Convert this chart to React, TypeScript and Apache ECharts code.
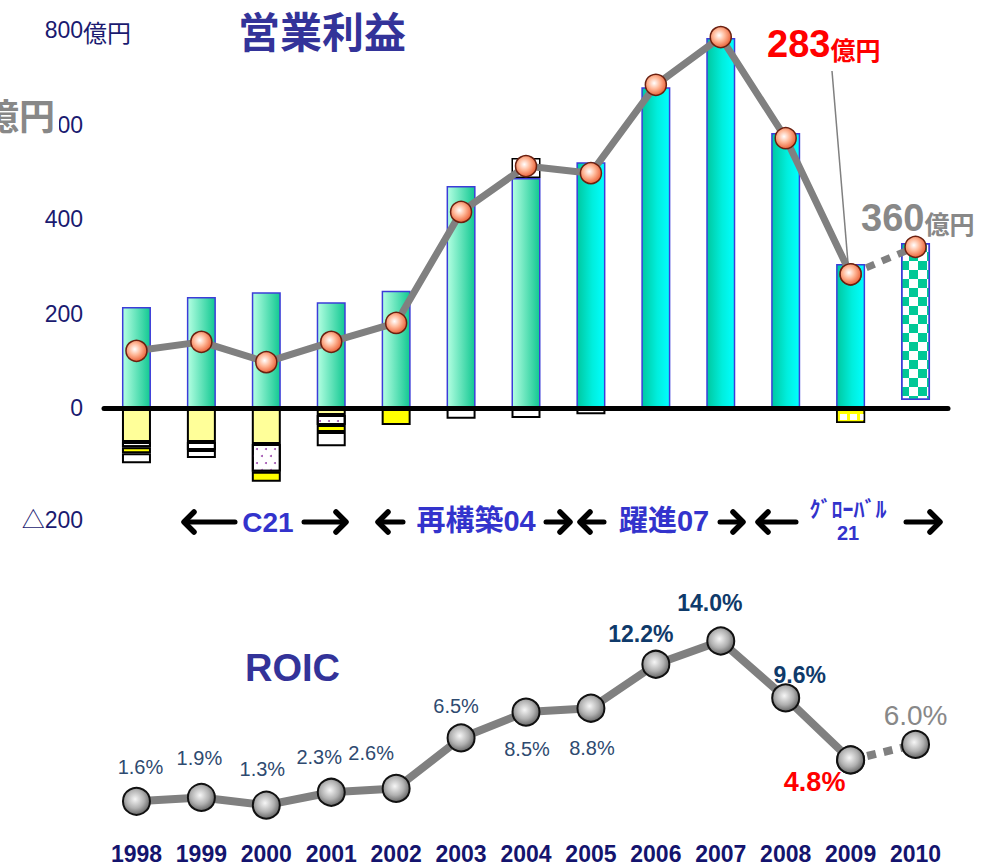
import React, { useEffect, useRef } from 'react';
import * as echarts from 'echarts';

// ---------- data ----------
const years = ['1998', '1999', '2000', '2001', '2002', '2003', '2004', '2005', '2006', '2007', '2008', '2009', '2010'];
// operating profit (億円) — line
const opProfit = [121, 140, 97, 140, 180, 415, 512, 497, 684, 785, 571, 283, 341];
// stacked bar components (億円)
const barBase = [0, 0, 0, 0, 0, 0, 0, 0, 0, 0, 0, 0, 17];
const barMain = [214, 235, 245, 224, 248, 470, 487, 520, 679, 783, 582, 305, 332];
const barTopBox = [0, 0, 0, 0, 0, 0, 42, 0, 0, 0, 0, 0, 0];
const negLightYellow = [-72, -72, -76, -15, 0, 0, 0, 0, 0, 0, 0, 0, 0];
const negDotted = [-11, -17, -59, -21, 0, 0, 0, 0, 0, 0, 0, 0, 0];
const negYellow = [-13, 0, -21, -15, -36, 0, 0, 0, 0, 0, 0, -32, 0];
const negWhite = [-21, -17, 0, -30, 0, -23, -21, -13, 0, 0, 0, 0, 0];
// ROIC (%)
const roic = [1.6, 1.9, 1.3, 2.3, 2.6, 6.5, 8.5, 8.8, 12.2, 14.0, 9.6, 4.8, 6.0];
const yTickMin = -200;
const yTickMax = 800;
const yTickStep = 200;

// ---------- styles ----------
const SANS = "'Liberation Sans', Arial, 'Noto Sans CJK JP', sans-serif";
const CJK = "'Noto Sans CJK JP', 'Liberation Sans', sans-serif";
const NAVY = '#1a1a70';
const TITLE_BLUE = '#333399';
const PHASE_BLUE = '#3333cc';

const roicLabelOffsets = [
  [4, -34], [-2, -39], [-4, -36], [-12, -35], [-25, -35], [-5, -32], [1, 37],
  [1, 40], [-15, -30], [-11, -38], [14, -23], [-36, 22], [0, -29],
];
const roicLabelKinds = ['n', 'n', 'n', 'n', 'n', 'n', 'n', 'n', 'b', 'b', 'b', 'r', 'g'];

const toItems = (arr: number[]) => arr.map((v) => (v === 0 ? '-' : v));

export default function App() {
  const ref = useRef<HTMLDivElement>(null);

  useEffect(() => {
    if (!ref.current) return;
    const chart = echarts.init(ref.current, undefined, { renderer: 'svg' });

    const mint = new echarts.graphic.LinearGradient(0, 0, 1, 0, [
      { offset: 0, color: '#b4ffe2' },
      { offset: 1, color: '#12c892' },
    ]);
    const teal = new echarts.graphic.LinearGradient(0, 0, 1, 0, [
      { offset: 0, color: '#00c8a0' },
      { offset: 0.55, color: '#00eedd' },
      { offset: 1, color: '#00ffff' },
    ]);
    const orangeBall = new echarts.graphic.RadialGradient(0.42, 0.42, 0.62, [
      { offset: 0, color: '#ffffff' },
      { offset: 0.45, color: '#ffb898' },
      { offset: 1, color: '#e85a30' },
    ]);
    const grayBall = new echarts.graphic.RadialGradient(0.45, 0.42, 0.62, [
      { offset: 0, color: '#f6f6f6' },
      { offset: 0.55, color: '#b0b0b0' },
      { offset: 1, color: '#5a5a5a' },
    ]);

    const posBorder = { borderColor: '#3c3cd8', borderWidth: 1.5 };
    const negBorder = { borderColor: '#000', borderWidth: 2 };

    const mainData = barMain.map((v, i) => {
      if (i === 12) {
        return {
          value: v,
          itemStyle: {
            color: '#ffffff',
            ...posBorder,
            decal: {
              symbol: 'rect',
              symbolSize: 1,
              color: '#00c896',
              dashArrayX: [[9, 9], [0, 9, 9, 0]],
              dashArrayY: [9, 0],
            },
          },
        };
      }
      return { value: v, itemStyle: { color: i <= 6 ? mint : teal, ...posBorder } };
    });

    const yellowData = negYellow.map((v, i) => {
      if (v === 0) return '-';
      if (i === 11) {
        return {
          value: v,
          itemStyle: {
            color: '#ffff00',
            ...negBorder,
            borderWidth: 1.5,
            decal: {
              symbol: 'rect',
              symbolSize: 1,
              color: '#ffffff',
              dashArrayX: [7, 3],
              dashArrayY: [6, 3],
            },
          },
        };
      }
      return v;
    });

    const roicLabel = (i: number) => {
      const k = roicLabelKinds[i];
      const base: any = {
        show: true,
        position: 'inside',
        offset: roicLabelOffsets[i],
        fontFamily: SANS,
        formatter: (p: any) => Number(p.value).toFixed(1) + '%',
      };
      if (k === 'n') return { ...base, fontSize: 20, color: '#2e4a70' };
      if (k === 'b') return { ...base, fontSize: 23, fontWeight: 'bold', color: '#0f3a6a' };
      if (k === 'r') return { ...base, fontSize: 27, fontWeight: 'bold', color: '#ff0000' };
      return { ...base, fontSize: 28, color: '#888888' };
    };

    const roicSolid = roic.map((v, i) => (i <= 11 ? { value: v, label: roicLabel(i) } : '-'));
    const roicDotted = roic.map((v, i) =>
      i >= 11 ? { value: v, label: i === 12 ? roicLabel(i) : { show: false } } : '-'
    );
    const opSolid = opProfit.map((v, i) => (i <= 11 ? v : '-'));
    const opDotted = opProfit.map((v, i) => (i >= 11 ? v : '-'));

    const arrow = (x1: number, x2: number, y: number, dir: 'l' | 'r') => {
      const head = dir === 'l' ? x1 : x2;
      const s = dir === 'l' ? 1 : -1;
      return {
        type: 'group',
        children: [
          {
            type: 'line',
            shape: { x1: x1 + (dir === 'l' ? 3 : 0), y1: y, x2: x2 - (dir === 'r' ? 3 : 0), y2: y },
            style: { stroke: '#000', lineWidth: 5, lineCap: 'round' },
          },
          {
            type: 'polyline',
            shape: { points: [[head + s * 11, y - 10], [head + s * 1, y], [head + s * 11, y + 10]] },
            style: { stroke: '#000', lineWidth: 5.5, lineCap: 'round', lineJoin: 'round', fill: 'none' },
          },
        ],
      };
    };

    const txt = (text: string, x: number, y: number, font: string, fill: string, align = 'center', extra: any = {}) => ({
      type: 'text',
      x,
      y,
      z: 50,
      style: {
        text,
        font,
        fill,
        align,
        textAlign: align,
        verticalAlign: 'middle',
        textVerticalAlign: 'middle',
        ...extra,
      },
    });

    const option: any = {
      animation: false,
      backgroundColor: '#ffffff',
      grid: [
        { left: 104, width: 844, top: 30, height: 472.5, containLabel: false },
        { left: 104, width: 844, top: 641, height: 181, containLabel: false },
      ],
      xAxis: [
        {
          type: 'category',
          gridIndex: 0,
          data: years,
          axisLine: { show: true, onZero: true, lineStyle: { color: '#000', width: 5 } },
          axisTick: { show: false },
          axisLabel: { show: false },
          z: 5,
        },
        {
          type: 'category',
          gridIndex: 1,
          data: years,
          axisLine: { show: false },
          axisTick: { show: false },
          axisLabel: {
            show: true,
            interval: 0,
            margin: 20,
            fontFamily: SANS,
            fontSize: 23,
            fontWeight: 'bold',
            color: '#14146e',
          },
        },
      ],
      yAxis: [
        {
          type: 'value',
          gridIndex: 0,
          min: yTickMin,
          max: yTickMax,
          interval: yTickStep,
          splitLine: { show: false },
          axisLine: { show: false },
          axisTick: { show: false },
          axisLabel: {
            margin: 21,
            fontSize: 23,
            fontFamily: SANS,
            color: NAVY,
            formatter: (v: number) => (v < 0 ? '{d|△' + Math.abs(v) + '}' : String(v)),
            rich: {
              d: {
                fontSize: 23,
                fontFamily: SANS,
                color: NAVY,
                padding: [34, 0, 0, 0],
              },
            },
          },
        },
        {
          type: 'value',
          gridIndex: 1,
          min: 0,
          max: 14,
          show: false,
        },
      ],
      series: [
        {
          name: 'base',
          type: 'bar',
          stack: 'op',
          xAxisIndex: 0,
          yAxisIndex: 0,
          barWidth: 29,
          data: toItems(barBase),
          itemStyle: { color: 'rgba(0,0,0,0)' },
          z: 2,
        },
        {
          name: 'main',
          type: 'bar',
          stack: 'op',
          xAxisIndex: 0,
          yAxisIndex: 0,
          barWidth: 29,
          data: mainData,
          z: 2,
        },
        {
          name: 'topBox',
          type: 'bar',
          stack: 'op',
          barWidth: 29,
          data: toItems(barTopBox),
          itemStyle: { color: '#ffffff', ...negBorder, borderWidth: 1.5 },
          z: 2,
        },
        {
          name: 'negLightYellow',
          type: 'bar',
          stack: 'op',
          barWidth: 29,
          data: toItems(negLightYellow),
          itemStyle: { color: '#ffff99', ...negBorder },
          z: 2,
        },
        {
          name: 'negDotted',
          type: 'bar',
          stack: 'op',
          barWidth: 29,
          data: toItems(negDotted),
          itemStyle: {
            color: '#ffffff',
            ...negBorder,
            decal: {
              symbol: 'circle',
              symbolSize: 1,
              color: '#a050b0',
              dashArrayX: [[2, 7], [0, 4, 2, 3]],
              dashArrayY: [2, 5],
            },
          },
          z: 2,
        },
        {
          name: 'negYellow',
          type: 'bar',
          stack: 'op',
          barWidth: 29,
          data: yellowData,
          itemStyle: { color: '#ffff00', ...negBorder },
          z: 2,
        },
        {
          name: 'negWhite',
          type: 'bar',
          stack: 'op',
          barWidth: 29,
          data: toItems(negWhite),
          itemStyle: { color: '#ffffff', ...negBorder },
          z: 2,
        },
        {
          name: 'opDotted',
          type: 'line',
          xAxisIndex: 0,
          yAxisIndex: 0,
          data: opDotted,
          symbol: 'circle',
          symbolSize: 21,
          itemStyle: { color: orangeBall, borderColor: '#6a2010', borderWidth: 1.5 },
          lineStyle: { color: '#808080', width: 7, type: [9, 8] },
          z: 6,
        },
        {
          name: 'opSolid',
          type: 'line',
          xAxisIndex: 0,
          yAxisIndex: 0,
          data: opSolid,
          symbol: 'circle',
          symbolSize: 21,
          itemStyle: { color: orangeBall, borderColor: '#6a2010', borderWidth: 1.5 },
          lineStyle: { color: '#808080', width: 7 },
          z: 7,
        },
        {
          name: 'roicDotted',
          type: 'line',
          xAxisIndex: 1,
          yAxisIndex: 1,
          data: roicDotted,
          symbol: 'circle',
          symbolSize: 27,
          itemStyle: { color: grayBall, borderColor: '#111', borderWidth: 2 },
          lineStyle: { color: '#808080', width: 8, type: [9, 8] },
          z: 6,
        },
        {
          name: 'roicSolid',
          type: 'line',
          xAxisIndex: 1,
          yAxisIndex: 1,
          data: roicSolid,
          symbol: 'circle',
          symbolSize: 27,
          itemStyle: { color: grayBall, borderColor: '#111', borderWidth: 2 },
          lineStyle: { color: '#808080', width: 8 },
          z: 7,
        },
      ],
      graphic: [
        txt('営業利益', 322, 29, `bold 42px ${CJK}`, TITLE_BLUE),
        txt('ROIC', 245, 668, `bold 38px ${SANS}`, TITLE_BLUE, 'left'),
        txt('億円', 83, 31, `24px ${CJK}`, NAVY, 'left'),
        txt('億円', -17, 114, `bold 36px ${CJK}`, '#888888', 'left', {
          backgroundColor: '#ffffff',
          padding: [0, 4, 12, 0],
        }),
        {
          type: 'text',
          x: 767,
          y: 44,
          z: 50,
          style: {
            text: '{a|283}{b|億円}',
            align: 'left',
            textAlign: 'left',
            verticalAlign: 'middle',
            textVerticalAlign: 'middle',
            rich: {
              a: { fontFamily: SANS, fontSize: 38, fontWeight: 'bold', fill: '#ff0000', color: '#ff0000' },
              b: { fontFamily: CJK, fontSize: 25, fontWeight: 'bold', fill: '#ff0000', color: '#ff0000', verticalAlign: 'bottom', padding: [0, 0, 2, 0] },
            },
          },
        },
        {
          type: 'line',
          z: 40,
          shape: { x1: 832, y1: 71, x2: 848, y2: 263 },
          style: { stroke: '#808080', lineWidth: 1.5 },
        },
        {
          type: 'text',
          x: 861,
          y: 218,
          z: 50,
          style: {
            text: '{a|360}{b|億円}',
            align: 'left',
            textAlign: 'left',
            verticalAlign: 'middle',
            textVerticalAlign: 'middle',
            rich: {
              a: { fontFamily: SANS, fontSize: 38, fontWeight: 'bold', fill: '#888888', color: '#888888' },
              b: { fontFamily: CJK, fontSize: 25, fontWeight: 'bold', fill: '#888888', color: '#888888', verticalAlign: 'bottom', padding: [0, 0, 2, 0] },
            },
          },
        },
        arrow(183, 235, 522, 'l'),
        txt('C21', 268, 522, `bold 28px ${SANS}`, PHASE_BLUE),
        arrow(304, 347, 522, 'r'),
        arrow(377, 403, 522, 'l'),
        txt('再構築04', 476, 521, `bold 29px ${SANS}`, PHASE_BLUE),
        arrow(546, 571, 522, 'r'),
        arrow(579, 604, 522, 'l'),
        txt('躍進07', 664, 521, `bold 29px ${SANS}`, PHASE_BLUE),
        arrow(720, 744, 522, 'r'),
        arrow(757, 796, 522, 'l'),
        txt('ｸﾞﾛｰﾊﾞﾙ', 848, 507, `bold 22px ${CJK}`, PHASE_BLUE),
        txt('21', 848, 533, `bold 20px ${SANS}`, PHASE_BLUE),
        arrow(906, 941, 522, 'r'),
      ],
    };

    chart.setOption(option);
    return () => chart.dispose();
  }, []);

  return (
    <div
      ref={ref}
      style={{ position: 'fixed', left: 0, top: 0, width: 997, height: 866, background: '#fff' }}
    />
  );
}
